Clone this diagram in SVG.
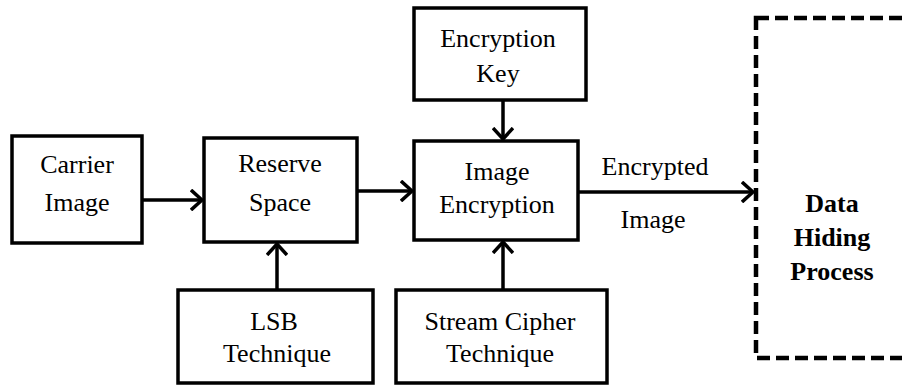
<svg xmlns="http://www.w3.org/2000/svg" width="902" height="385" viewBox="0 0 902 385">
<style>
.box{fill:#fff;stroke:#000;stroke-width:3.5}
.t{font-size:26px;text-anchor:middle;fill:#000}
.b{font-size:26px;font-weight:bold;text-anchor:middle;fill:#000}
.c{fill:none;stroke:#000;stroke-width:3.5}
.dash{fill:none;stroke:#000;stroke-width:4.5;stroke-dasharray:13 6}
</style>
<defs>
<marker id="ah" markerWidth="14" markerHeight="22" refX="12" refY="11" orient="auto" markerUnits="userSpaceOnUse">
<path d="M1,1 L12,11 L1,21" fill="none" stroke="#000" stroke-width="3.5"/>
</marker>
</defs>
<g font-family="Liberation Serif, Times New Roman, DejaVu Serif, serif">
<rect class="dash" x="756" y="18" width="160" height="340"/>
<g id="carrier"><rect class="box" x="12" y="136" width="130" height="107"/><text class="t" x="77" y="173">Carrier</text><text class="t" x="77" y="211">Image</text></g>
<g id="reserve"><rect class="box" x="204" y="138" width="153" height="104"/><text class="t" x="280" y="172">Reserve</text><text class="t" x="280" y="211">Space</text></g>
<g id="key"><rect class="box" x="414" y="8" width="172" height="92"/><text class="t" x="498" y="47">Encryption</text><text class="t" x="498" y="82">Key</text></g>
<g id="enc"><rect class="box" x="414" y="141" width="164" height="99"/><text class="t" x="497" y="180">Image</text><text class="t" x="497" y="213">Encryption</text></g>
<g id="lsb"><rect class="box" x="178" y="290" width="195" height="93"/><text class="t" x="274" y="330">LSB</text><text class="t" x="277" y="362">Technique</text></g>
<g id="stream"><rect class="box" x="396" y="290" width="211" height="93"/><text class="t" x="500" y="330">Stream Cipher</text><text class="t" x="500" y="362">Technique</text></g>
<g id="hiding"><text class="b" x="832" y="212">Data</text><text class="b" x="832" y="246">Hiding</text><text class="b" x="832" y="280">Process</text></g>
<g id="connectors">
<line class="c" x1="142" y1="200" x2="202" y2="200" marker-end="url(#ah)"/>
<line class="c" x1="357" y1="191" x2="412" y2="191" marker-end="url(#ah)"/>
<line class="c" x1="503" y1="100" x2="503" y2="139" marker-end="url(#ah)"/>
<line class="c" x1="503" y1="290" x2="503" y2="242" marker-end="url(#ah)"/>
<line class="c" x1="277" y1="290" x2="277" y2="244" marker-end="url(#ah)"/>
<line class="c" x1="578" y1="192" x2="753" y2="192" marker-end="url(#ah)"/>
<text class="t" x="655" y="175">Encrypted</text>
<text class="t" x="653" y="228">Image</text>
</g>
</g>
</svg>
